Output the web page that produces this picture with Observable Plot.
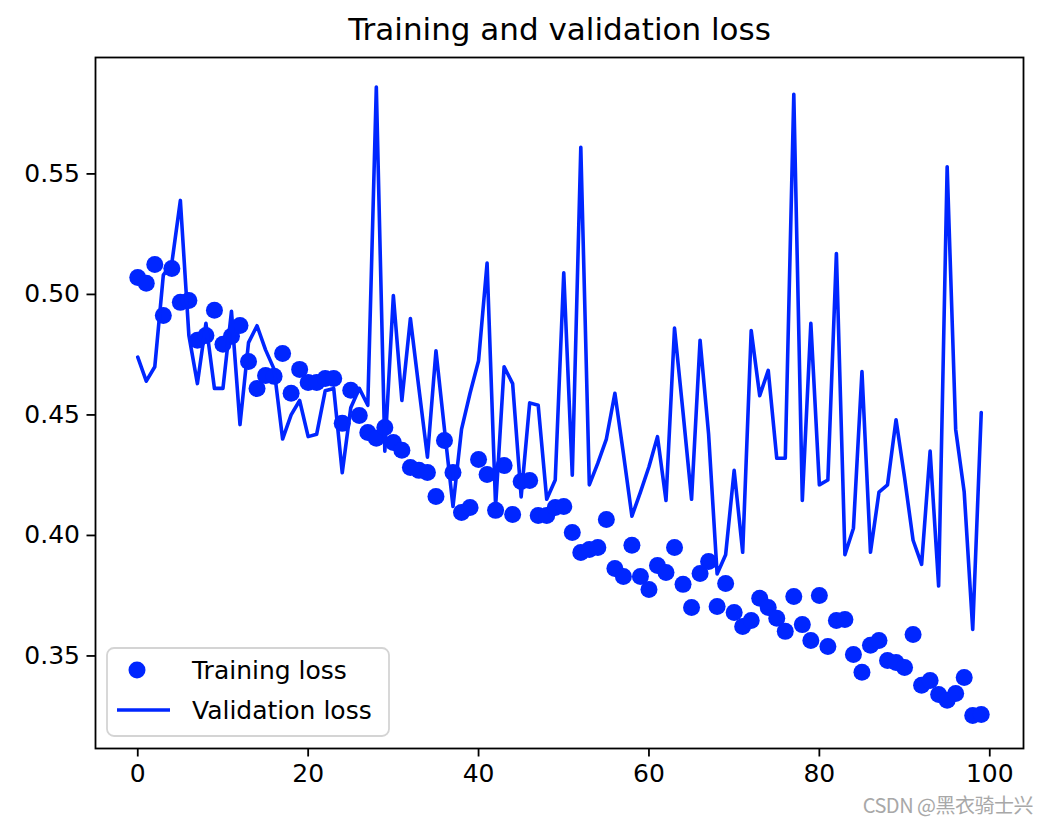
<!DOCTYPE html>
<html>
<head>
<meta charset="utf-8">
<script src="https://cdn.jsdelivr.net/npm/d3@7"></script>
<script src="https://cdn.jsdelivr.net/npm/@observablehq/plot@0.6"></script>
<style>
  html, body { margin: 0; padding: 0; background: #ffffff; }
  #wrap { position: relative; width: 1047px; height: 823px; font-family: "DejaVu Sans", sans-serif; }
  #watermark { position: absolute; right: 14px; top: 790px; font-family: "Noto Sans CJK SC", "DejaVu Sans", sans-serif; font-size: 20px; color: #a8a8a8; letter-spacing: -0.5px; }
</style>
</head>
<body>
<div id="wrap"></div>
<script>
const titleText = "Training and validation loss";
const legendLabels = ["Training loss", "Validation loss"];
const watermarkText = "CSDN @黑衣骑士兴";
const xTicks = [0, 20, 40, 60, 80, 100];
const yTicks = [0.35, 0.40, 0.45, 0.50, 0.55];

const trainingLoss = [
  0.5070, 0.5046, 0.5124, 0.4913, 0.5108, 0.4967, 0.4975, 0.4810, 0.4830, 0.4934,
  0.4793, 0.4826, 0.4871, 0.4722, 0.4610, 0.4664, 0.4660, 0.4755, 0.4590, 0.4689,
  0.4635, 0.4635, 0.4651, 0.4651, 0.4465, 0.4602, 0.4498, 0.4427, 0.4403, 0.4448,
  0.4386, 0.4353, 0.4282, 0.4270, 0.4261, 0.4162, 0.4394, 0.4261, 0.4095, 0.4116,
  0.4315, 0.4253, 0.4104, 0.4290, 0.4087, 0.4224, 0.4228, 0.4083, 0.4083, 0.4116,
  0.4120, 0.4012, 0.3929, 0.3942, 0.3950, 0.4066, 0.3863, 0.3830, 0.3959, 0.3830,
  0.3776, 0.3875, 0.3846, 0.3950, 0.3797, 0.3701, 0.3842, 0.3892, 0.3705, 0.3801,
  0.3680, 0.3622, 0.3647, 0.3739, 0.3701, 0.3656, 0.3602, 0.3747, 0.3630, 0.3564,
  0.3751, 0.3539, 0.3647, 0.3651, 0.3506, 0.3432, 0.3544, 0.3564, 0.3481, 0.3473,
  0.3452, 0.3589, 0.3378, 0.3398, 0.3340, 0.3316, 0.3344, 0.3411, 0.3253, 0.3257
];

const validationLoss = [
  0.474, 0.464, 0.470, 0.508, 0.513, 0.539, 0.483, 0.463, 0.488, 0.461,
  0.461, 0.493, 0.446, 0.480, 0.487, 0.477, 0.469, 0.440, 0.450, 0.456,
  0.441, 0.442, 0.460, 0.461, 0.426, 0.453, 0.461, 0.454, 0.586, 0.435,
  0.4995, 0.456, 0.490, 0.461, 0.4325, 0.4766, 0.444, 0.412, 0.444, 0.459,
  0.4725, 0.513, 0.412, 0.470, 0.463, 0.416, 0.455, 0.454, 0.415, 0.423,
  0.509, 0.425, 0.561, 0.421, 0.430, 0.440, 0.459, 0.434, 0.408, 0.418,
  0.4285, 0.441, 0.4145, 0.486, 0.451, 0.415, 0.481, 0.442, 0.384, 0.392,
  0.427, 0.393, 0.485, 0.458, 0.4685, 0.432, 0.432, 0.583, 0.4145, 0.488,
  0.421, 0.423, 0.517, 0.392, 0.403, 0.468, 0.393, 0.418, 0.421, 0.448,
  0.424, 0.398, 0.388, 0.435, 0.379, 0.553, 0.444, 0.418, 0.361, 0.451
];

const blue = "#0026ff";
const train = trainingLoss.map((loss, epoch) => ({epoch, loss}));
const val = validationLoss.map((loss, epoch) => ({epoch, loss}));

const chart = Plot.plot({
  width: 1047,
  height: 823,
  marginLeft: 95,
  marginRight: 24,
  marginTop: 57,
  marginBottom: 75,
  x: {domain: [-4.96, 103.96]},
  y: {domain: [0.3116, 0.5983]},
  style: {fontFamily: "DejaVu Sans, sans-serif", fontSize: "25px", color: "black", background: "white", overflow: "visible"},
  marks: [
    Plot.dot(train, {x: "epoch", y: "loss", r: 8.5, fill: blue, stroke: "none"}),
    Plot.line(val, {x: "epoch", y: "loss", stroke: blue, strokeWidth: 3.6}),
    Plot.frame({stroke: "black", strokeWidth: 1.8}),
    Plot.axisX({ticks: xTicks, tickSize: 8.5, tickPadding: 7, strokeWidth: 1.8, label: null, fontSize: 25, tickFormat: d3.format("d")}),
    Plot.axisY({ticks: yTicks, tickSize: 8.5, tickPadding: 7, strokeWidth: 1.8, label: null, fontSize: 25, tickFormat: d3.format(".2f")}),
    Plot.text([titleText], {text: d => d, frameAnchor: "top", lineAnchor: "middle", dy: -27, fontSize: 31, fill: "black"})
  ]
});

const wrap = document.getElementById("wrap");
wrap.appendChild(chart);

// legend
const legend = d3.create("svg")
  .attr("width", 284)
  .attr("height", 90)
  .style("position", "absolute").style("left", "106px").style("top", "647px");
legend.append("rect").attr("x", 1).attr("y", 1).attr("width", 282).attr("height", 88)
  .attr("rx", 7).attr("fill", "rgba(255,255,255,0.8)").attr("stroke", "#d4d4d4").attr("stroke-width", 1.8);
legend.append("circle").attr("cx", 31).attr("cy", 23).attr("r", 8.5).attr("fill", blue);
legend.append("line").attr("x1", 11).attr("x2", 64).attr("y1", 63).attr("y2", 63).attr("stroke", blue).attr("stroke-width", 3.6);
legend.selectAll("text.lbl").data(legendLabels).join("text")
  .attr("class", "lbl")
  .attr("x", 86).attr("y", (d, i) => i === 0 ? 23 : 63)
  .attr("dy", "0.35em")
  .attr("font-family", "DejaVu Sans, sans-serif")
  .attr("font-size", 25)
  .attr("fill", "black")
  .text(d => d);
wrap.appendChild(legend.node());

const wm = document.createElement("div");
wm.id = "watermark";
wm.textContent = watermarkText;
wrap.appendChild(wm);
</script>
</body>
</html>
